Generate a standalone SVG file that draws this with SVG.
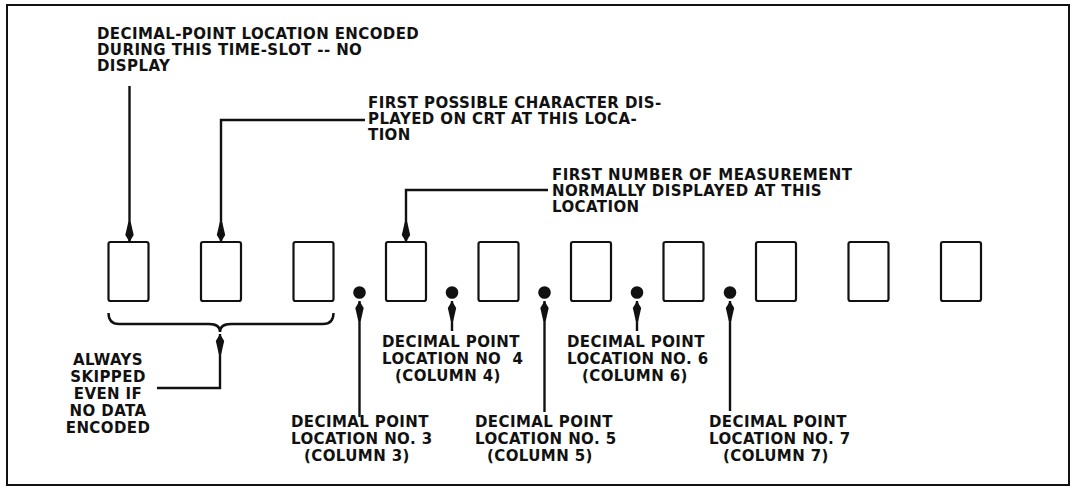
<svg xmlns="http://www.w3.org/2000/svg" width="1078" height="491" viewBox="0 0 1078 491">
<style>
  .t { font-family: "DejaVu Sans", "Liberation Sans", Arial, sans-serif; font-weight: bold; font-size: 15px; letter-spacing: 0.4px; fill: #111; white-space: pre; }
  .c { text-anchor: middle; }
  .box { fill: #fff; stroke: #111; stroke-width: 2.2; }
  .ln { fill: none; stroke: #111; stroke-width: 2.4; }
  .dot { fill: #111; }
</style>
<defs>
  <marker id="ah" markerUnits="userSpaceOnUse" viewBox="-22 -5 24 10" refX="0" refY="0" markerWidth="24" markerHeight="10" orient="auto">
    <path d="M0,0 L-7,-4.2 L-20,-1.2 L-20,1.2 L-7,4.2 Z" fill="#111"/>
  </marker>
</defs>
<rect x="0" y="0" width="1078" height="491" fill="#fff"/>
<rect x="7" y="5" width="1062" height="480" fill="none" stroke="#111" stroke-width="2"/>

<g id="boxes">
  <rect id="box1" class="box" x="108.5" y="242" width="40" height="59" rx="2"/>
  <rect id="box2" class="box" x="201" y="242" width="40" height="59" rx="2"/>
  <rect id="box3" class="box" x="293.5" y="242" width="40" height="59" rx="2"/>
  <rect id="box4" class="box" x="386" y="242" width="40" height="59" rx="2"/>
  <rect id="box5" class="box" x="478.5" y="242" width="40" height="59" rx="2"/>
  <rect id="box6" class="box" x="571" y="242" width="40" height="59" rx="2"/>
  <rect id="box7" class="box" x="663.5" y="242" width="40" height="59" rx="2"/>
  <rect id="box8" class="box" x="756" y="242" width="40" height="59" rx="2"/>
  <rect id="box9" class="box" x="848.5" y="242" width="40" height="59" rx="2"/>
  <rect id="box10" class="box" x="941" y="242" width="40" height="59" rx="2"/>
</g>

<g id="dots">
  <circle id="dp3" class="dot" cx="359.5" cy="292.5" r="6.3"/>
  <circle id="dp4" class="dot" cx="452" cy="292.5" r="6.3"/>
  <circle id="dp5" class="dot" cx="544.5" cy="292.5" r="6.3"/>
  <circle id="dp6" class="dot" cx="637" cy="292.5" r="6.3"/>
  <circle id="dp7" class="dot" cx="730" cy="292.5" r="6.3"/>
</g>

<g id="brace">
  <path class="ln" d="M108.5,313 Q108.5,324 119,324 H209 Q220,324 220,332 Q220,324 231,324 H323 Q333.5,324 333.5,313"/>
</g>

<g id="connectors">
  <path class="ln" d="M129.5,86 V242" marker-end="url(#ah)"/>
  <path class="ln" d="M365,120 H221 V242" marker-end="url(#ah)"/>
  <path class="ln" d="M548,190 H406 V242" marker-end="url(#ah)"/>
  <path class="ln" d="M157,388 H220 V334" marker-end="url(#ah)"/>
  <path class="ln" d="M359.5,417 V301" marker-end="url(#ah)"/>
  <path class="ln" d="M452,331 V301" marker-end="url(#ah)"/>
  <path class="ln" d="M544.5,412 V301" marker-end="url(#ah)"/>
  <path class="ln" d="M637,331 V301" marker-end="url(#ah)"/>
  <path class="ln" d="M730,411 V301" marker-end="url(#ah)"/>
</g>

<g id="label-dp-encoded">
  <text class="t" x="97" y="39">DECIMAL-POINT LOCATION ENCODED</text>
  <text class="t" x="97" y="55">DURING THIS TIME-SLOT -- NO</text>
  <text class="t" x="97" y="71">DISPLAY</text>
</g>
<g id="label-first-possible">
  <text class="t" x="368" y="108">FIRST POSSIBLE CHARACTER DIS-</text>
  <text class="t" x="368" y="124">PLAYED ON CRT AT THIS LOCA-</text>
  <text class="t" x="368" y="140">TION</text>
</g>
<g id="label-first-number">
  <text class="t" x="552" y="180">FIRST NUMBER OF MEASUREMENT</text>
  <text class="t" x="552" y="196">NORMALLY DISPLAYED AT THIS</text>
  <text class="t" x="552" y="212">LOCATION</text>
</g>
<g id="label-skipped">
  <text class="t c" x="108" y="365">ALWAYS</text>
  <text class="t c" x="108" y="382">SKIPPED</text>
  <text class="t c" x="108" y="399">EVEN IF</text>
  <text class="t c" x="108" y="416">NO DATA</text>
  <text class="t c" x="108" y="433">ENCODED</text>
</g>
<g id="label-dp3">
  <text class="t" x="291" y="427">DECIMAL POINT</text>
  <text class="t" x="291" y="444">LOCATION NO. 3</text>
  <text class="t" x="304" y="461">(COLUMN 3)</text>
</g>
<g id="label-dp4">
  <text class="t" x="382" y="347">DECIMAL POINT</text>
  <text class="t" x="382" y="364">LOCATION NO  4</text>
  <text class="t" x="395" y="381">(COLUMN 4)</text>
</g>
<g id="label-dp5">
  <text class="t" x="475" y="427">DECIMAL POINT</text>
  <text class="t" x="475" y="444">LOCATION NO. 5</text>
  <text class="t" x="487" y="461">(COLUMN 5)</text>
</g>
<g id="label-dp6">
  <text class="t" x="567" y="347">DECIMAL POINT</text>
  <text class="t" x="567" y="364">LOCATION NO. 6</text>
  <text class="t" x="582" y="381">(COLUMN 6)</text>
</g>
<g id="label-dp7">
  <text class="t" x="709" y="427">DECIMAL POINT</text>
  <text class="t" x="709" y="444">LOCATION NO. 7</text>
  <text class="t" x="723" y="461">(COLUMN 7)</text>
</g>
</svg>
